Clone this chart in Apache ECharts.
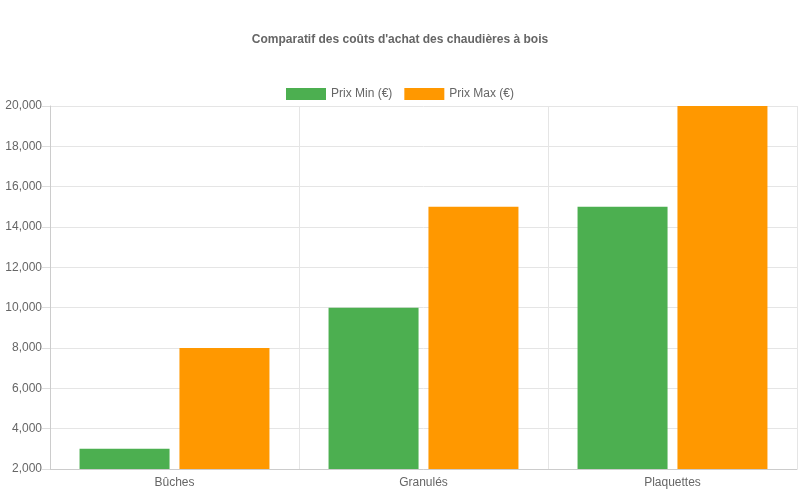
<!DOCTYPE html>
<html><head><meta charset="utf-8">
<script src="https://cdn.jsdelivr.net/npm/echarts@6/dist/echarts.min.js"></script>
<style>html,body{margin:0;padding:0;background:#fff}#c{width:800px;height:500px}</style>
</head><body><div id="c"></div>
<script>
const categories = ['Bûches', 'Granulés', 'Plaquettes'];
const prixMin = [3000, 10000, 15000];
const prixMax = [8000, 15000, 20000];
const chart = echarts.init(document.getElementById('c'));
chart.setOption({
  animation: false,
  textStyle: { fontFamily: 'Liberation Sans, Arial, sans-serif' },
  title: { text: "Comparatif des coûts d'achat des chaudières à bois", left: 'center', top: 29,
    textStyle: { fontSize: 12, fontWeight: 'bold', color: '#666' } },
  legend: { top: 83, itemWidth: 40, itemHeight: 12, itemGap: 12, icon: 'rect',
    textStyle: { color: '#666', fontSize: 12 } },
  grid: { left: 50, right: 3, top: 106, bottom: 31 },
  xAxis: { type: 'category', data: categories,
    axisLine: { lineStyle: { color: '#ccc' } },
    axisTick: { length: 8, lineStyle: { color: '#ddd' } },
    axisLabel: { color: '#666', fontSize: 12 },
    splitLine: { show: true, lineStyle: { color: '#e5e5e5' } } },
  yAxis: { type: 'value', min: 2000, max: 20000, interval: 2000,
    axisLine: { show: true, lineStyle: { color: '#ccc' } },
    axisTick: { show: true, length: 8, lineStyle: { color: '#ddd' } },
    axisLabel: { color: '#666', fontSize: 12 },
    splitLine: { lineStyle: { color: '#e5e5e5' } } },
  series: [
    { name: 'Prix Min (€)', type: 'bar', data: prixMin, itemStyle: { color: '#4CAF50' }, barWidth: 90, barGap: '11%' },
    { name: 'Prix Max (€)', type: 'bar', data: prixMax, itemStyle: { color: '#FF9800' }, barWidth: 90, barGap: '11%' }
  ]
});
</script></body></html>
